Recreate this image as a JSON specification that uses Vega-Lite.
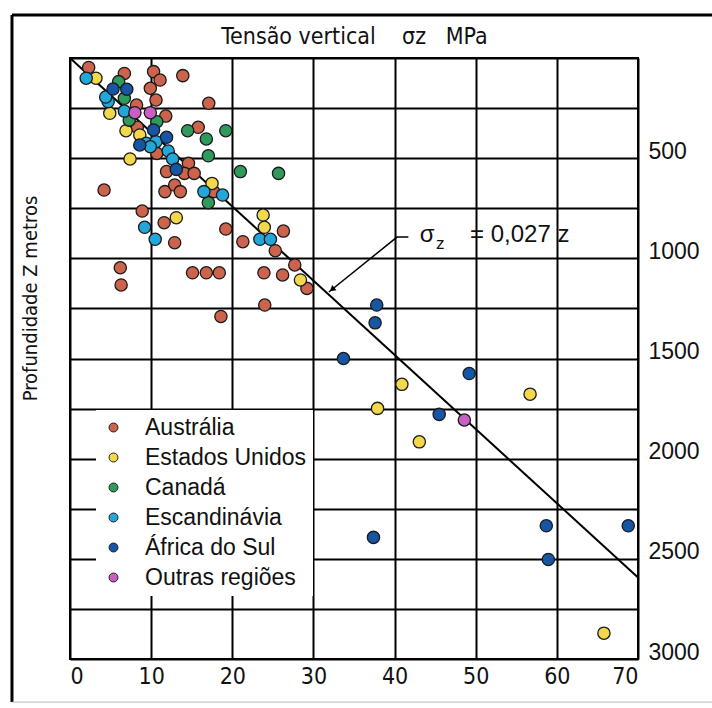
{
  "$schema": "https://vega.github.io/schema/vega-lite/v6.json",
  "width": 568,
  "height": 601,
  "autosize": {"type": "none"},
  "padding": {"left": 70, "top": 58, "right": 74, "bottom": 49},
  "background": "white",
  "config": {
    "view": {"stroke": "black", "strokeWidth": 2},
    "font": "Liberation Sans",
    "axis": {"labelColor": "#111", "titleColor": "#111", "titleFontWeight": "normal"}
  },
  "datasets": {
    "pontos": [
      {"regiao": "Austrália", "tensao": 2.3, "profundidade": 47},
      {"regiao": "Austrália", "tensao": 6.7, "profundidade": 77},
      {"regiao": "Austrália", "tensao": 10.3, "profundidade": 68},
      {"regiao": "Austrália", "tensao": 11.1, "profundidade": 110},
      {"regiao": "Austrália", "tensao": 13.9, "profundidade": 88},
      {"regiao": "Austrália", "tensao": 9.9, "profundidade": 151},
      {"regiao": "Austrália", "tensao": 10.6, "profundidade": 210},
      {"regiao": "Austrália", "tensao": 8.2, "profundidade": 235},
      {"regiao": "Austrália", "tensao": 17.1, "profundidade": 226},
      {"regiao": "Austrália", "tensao": 11.8, "profundidade": 290},
      {"regiao": "Austrália", "tensao": 8.3, "profundidade": 346},
      {"regiao": "Austrália", "tensao": 10.7, "profundidade": 476},
      {"regiao": "Austrália", "tensao": 14.6, "profundidade": 526},
      {"regiao": "Austrália", "tensao": 11.9, "profundidade": 567},
      {"regiao": "Austrália", "tensao": 14.1, "profundidade": 576},
      {"regiao": "Austrália", "tensao": 15.3, "profundidade": 576},
      {"regiao": "Austrália", "tensao": 15.8, "profundidade": 346},
      {"regiao": "Austrália", "tensao": 4.2, "profundidade": 659},
      {"regiao": "Austrália", "tensao": 17.7, "profundidade": 667},
      {"regiao": "Austrália", "tensao": 11.7, "profundidade": 667},
      {"regiao": "Austrália", "tensao": 12.9, "profundidade": 634},
      {"regiao": "Austrália", "tensao": 13.6, "profundidade": 667},
      {"regiao": "Austrália", "tensao": 8.9, "profundidade": 764},
      {"regiao": "Austrália", "tensao": 11.6, "profundidade": 822},
      {"regiao": "Austrália", "tensao": 12.9, "profundidade": 922},
      {"regiao": "Austrália", "tensao": 19.2, "profundidade": 854},
      {"regiao": "Austrália", "tensao": 21.3, "profundidade": 917},
      {"regiao": "Austrália", "tensao": 26.3, "profundidade": 864},
      {"regiao": "Austrália", "tensao": 25.3, "profundidade": 962},
      {"regiao": "Austrália", "tensao": 6.2, "profundidade": 1047},
      {"regiao": "Austrália", "tensao": 6.3, "profundidade": 1133},
      {"regiao": "Austrália", "tensao": 15.1, "profundidade": 1072},
      {"regiao": "Austrália", "tensao": 16.8, "profundidade": 1072},
      {"regiao": "Austrália", "tensao": 18.4, "profundidade": 1072},
      {"regiao": "Austrália", "tensao": 23.9, "profundidade": 1072},
      {"regiao": "Austrália", "tensao": 26.2, "profundidade": 1083},
      {"regiao": "Austrália", "tensao": 27.7, "profundidade": 1033},
      {"regiao": "Austrália", "tensao": 29.2, "profundidade": 1150},
      {"regiao": "Austrália", "tensao": 24.0, "profundidade": 1233},
      {"regiao": "Austrália", "tensao": 18.6, "profundidade": 1290},
      {"regiao": "Estados Unidos", "tensao": 3.2, "profundidade": 101},
      {"regiao": "Estados Unidos", "tensao": 4.9, "profundidade": 276},
      {"regiao": "Estados Unidos", "tensao": 6.9, "profundidade": 363},
      {"regiao": "Estados Unidos", "tensao": 8.6, "profundidade": 384},
      {"regiao": "Estados Unidos", "tensao": 7.4, "profundidade": 504},
      {"regiao": "Estados Unidos", "tensao": 17.5, "profundidade": 626},
      {"regiao": "Estados Unidos", "tensao": 13.1, "profundidade": 797},
      {"regiao": "Estados Unidos", "tensao": 23.8, "profundidade": 784},
      {"regiao": "Estados Unidos", "tensao": 23.95, "profundidade": 845},
      {"regiao": "Estados Unidos", "tensao": 28.4, "profundidade": 1108},
      {"regiao": "Estados Unidos", "tensao": 40.9, "profundidade": 1629},
      {"regiao": "Estados Unidos", "tensao": 56.7, "profundidade": 1678},
      {"regiao": "Estados Unidos", "tensao": 37.9, "profundidade": 1749},
      {"regiao": "Estados Unidos", "tensao": 43.05, "profundidade": 1916},
      {"regiao": "Estados Unidos", "tensao": 65.8, "profundidade": 2871},
      {"regiao": "Canadá", "tensao": 6.0, "profundidade": 118},
      {"regiao": "Canadá", "tensao": 6.7, "profundidade": 201},
      {"regiao": "Canadá", "tensao": 10.7, "profundidade": 318},
      {"regiao": "Canadá", "tensao": 7.3, "profundidade": 310},
      {"regiao": "Canadá", "tensao": 14.5, "profundidade": 363},
      {"regiao": "Canadá", "tensao": 19.2, "profundidade": 363},
      {"regiao": "Canadá", "tensao": 16.8, "profundidade": 404},
      {"regiao": "Canadá", "tensao": 17.05, "profundidade": 488},
      {"regiao": "Canadá", "tensao": 21.0, "profundidade": 567},
      {"regiao": "Canadá", "tensao": 25.7, "profundidade": 576},
      {"regiao": "Canadá", "tensao": 17.05, "profundidade": 722},
      {"regiao": "Escandinávia", "tensao": 2.0, "profundidade": 101},
      {"regiao": "Escandinávia", "tensao": 4.7, "profundidade": 218},
      {"regiao": "Escandinávia", "tensao": 4.4, "profundidade": 195},
      {"regiao": "Escandinávia", "tensao": 6.7, "profundidade": 265},
      {"regiao": "Escandinávia", "tensao": 9.4, "profundidade": 426},
      {"regiao": "Escandinávia", "tensao": 10.6, "profundidade": 418},
      {"regiao": "Escandinávia", "tensao": 9.9, "profundidade": 443},
      {"regiao": "Escandinávia", "tensao": 12.1, "profundidade": 464},
      {"regiao": "Escandinávia", "tensao": 12.65, "profundidade": 504},
      {"regiao": "Escandinávia", "tensao": 16.5, "profundidade": 667},
      {"regiao": "Escandinávia", "tensao": 18.8, "profundidade": 684},
      {"regiao": "Escandinávia", "tensao": 9.2, "profundidade": 845},
      {"regiao": "Escandinávia", "tensao": 10.5, "profundidade": 905},
      {"regiao": "Escandinávia", "tensao": 23.4, "profundidade": 905},
      {"regiao": "Escandinávia", "tensao": 24.7, "profundidade": 905},
      {"regiao": "África do Sul", "tensao": 5.3, "profundidade": 155},
      {"regiao": "África do Sul", "tensao": 7.0, "profundidade": 156},
      {"regiao": "África do Sul", "tensao": 10.3, "profundidade": 359},
      {"regiao": "África do Sul", "tensao": 8.6, "profundidade": 434},
      {"regiao": "África do Sul", "tensao": 11.9, "profundidade": 396},
      {"regiao": "África do Sul", "tensao": 13.1, "profundidade": 556},
      {"regiao": "África do Sul", "tensao": 37.8, "profundidade": 1233},
      {"regiao": "África do Sul", "tensao": 37.6, "profundidade": 1322},
      {"regiao": "África do Sul", "tensao": 33.7, "profundidade": 1500},
      {"regiao": "África do Sul", "tensao": 49.2, "profundidade": 1575},
      {"regiao": "África do Sul", "tensao": 45.5, "profundidade": 1779},
      {"regiao": "África do Sul", "tensao": 37.4, "profundidade": 2393},
      {"regiao": "África do Sul", "tensao": 58.7, "profundidade": 2335},
      {"regiao": "África do Sul", "tensao": 68.8, "profundidade": 2335},
      {"regiao": "África do Sul", "tensao": 58.95, "profundidade": 2503},
      {"regiao": "Outras regiões", "tensao": 8.0, "profundidade": 273},
      {"regiao": "Outras regiões", "tensao": 9.9, "profundidade": 273},
      {"regiao": "Outras regiões", "tensao": 48.6, "profundidade": 1807}
    ],
    "reta": [
      {"tensao": 0, "profundidade": 0},
      {"tensao": 70, "profundidade": 2593}
    ],
    "seta": [
      {"ordem": 1, "tensao": 41.7, "profundidade": 894},
      {"ordem": 2, "tensao": 40.3, "profundidade": 894},
      {"ordem": 3, "tensao": 31.9, "profundidade": 1168}
    ],
    "ponta": [
      {"tensao": 32.3, "profundidade": 1155}
    ],
    "anotacao": [
      {"texto": "σ", "tamanho": "grande", "tensao": 43.1, "profundidade": 884},
      {"texto": "z", "tamanho": "pequeno", "tensao": 45.1, "profundidade": 930},
      {"texto": "= 0,027 z", "tamanho": "grande", "tensao": 49.3, "profundidade": 884}
    ],
    "moldura": [
      {"x1": -7.15, "x2": 80, "y1": -215, "y2": 3215}
    ]
  },
  "layer": [
    {
      "data": {"name": "reta"},
      "mark": {"type": "line", "color": "black", "strokeWidth": 2},
      "encoding": {
        "x": {
          "field": "tensao", "type": "quantitative",
          "scale": {"domain": [0, 70], "nice": false, "zero": false},
          "axis": {
            "orient": "top", "labels": false, "ticks": false, "domain": false, "grid": false,
            "title": "Tensão vertical\u00a0\u00a0\u00a0\u00a0σz\u00a0\u00a0\u00a0MPa",
            "titleFont": "DejaVu Sans Condensed, Liberation Sans", "titleFontSize": 23, "titlePadding": 10
          }
        },
        "y": {
          "field": "profundidade", "type": "quantitative",
          "scale": {"domain": [0, 3000], "nice": false, "reverse": true, "zero": false},
          "axis": {
            "orient": "left", "labels": false, "ticks": false, "domain": false,
            "grid": true, "gridColor": "black", "gridWidth": 2, "gridOpacity": 1,
            "values": [0, 250, 500, 750, 1000, 1250, 1500, 1750, 2000, 2250, 2500, 2750, 3000],
            "title": "Profundidade Z metros",
            "titleFont": "DejaVu Sans Condensed, Liberation Sans", "titleFontSize": 20,
            "titleX": -40, "titleY": 240, "titleBaseline": "middle"
          }
        }
      }
    },
    {
      "data": {"name": "seta"},
      "mark": {"type": "line", "color": "black", "strokeWidth": 1.5},
      "encoding": {
        "x": {"field": "tensao", "type": "quantitative", "axis": null},
        "y": {"field": "profundidade", "type": "quantitative", "axis": null},
        "order": {"field": "ordem"}
      }
    },
    {
      "data": {"name": "ponta"},
      "mark": {"type": "point", "shape": "triangle-up", "filled": true, "color": "black", "size": 45, "angle": 231, "opacity": 1},
      "encoding": {
        "x": {"field": "tensao", "type": "quantitative", "axis": null},
        "y": {"field": "profundidade", "type": "quantitative", "axis": null}
      }
    },
    {
      "data": {"name": "anotacao"},
      "mark": {"type": "text", "align": "left", "baseline": "middle", "color": "#111", "font": "Liberation Sans"},
      "encoding": {
        "x": {"field": "tensao", "type": "quantitative", "axis": null},
        "y": {"field": "profundidade", "type": "quantitative", "axis": null},
        "text": {"field": "texto"},
        "size": {"field": "tamanho", "type": "nominal", "scale": {"domain": ["grande", "pequeno"], "range": [24, 17]}, "legend": null}
      }
    },
    {
      "data": {"name": "pontos"},
      "mark": {"type": "point", "filled": true, "size": 150, "stroke": "#1a1a1a", "strokeWidth": 1.3, "opacity": 1},
      "encoding": {
        "x": {
          "field": "tensao", "type": "quantitative",
          "axis": {
            "orient": "bottom", "values": [0, 10, 20, 30, 40, 50, 60, 70],
            "grid": true, "gridColor": "black", "gridWidth": 2, "gridOpacity": 1,
            "ticks": false, "domain": false, "title": null,
            "labelFont": "DejaVu Sans Condensed, Liberation Sans", "labelFontSize": 23, "labelPadding": 6
          }
        },
        "y": {
          "field": "profundidade", "type": "quantitative",
          "axis": {
            "orient": "right", "values": [500, 1000, 1500, 2000, 2500, 3000],
            "grid": false, "ticks": false, "domain": false, "title": null,
            "labelFont": "Liberation Sans", "labelFontSize": 23, "labelPadding": 10,
            "labelBaseline": "alphabetic", "labelAlign": "left", "format": "d"
          }
        },
        "fill": {
          "field": "regiao", "type": "nominal", "title": null,
          "scale": {
            "domain": ["Austrália", "Estados Unidos", "Canadá", "Escandinávia", "África do Sul", "Outras regiões"],
            "range": ["#cc634d", "#f3d84c", "#2f9a5c", "#22a7db", "#1755a5", "#c95fc4"]
          },
          "legend": {
            "orient": "none", "legendX": 26, "legendY": 352,
            "fillColor": "white", "padding": 6, "strokeColor": null,
            "symbolType": "circle", "symbolSize": 80, "symbolStrokeColor": "#222", "symbolStrokeWidth": 1, "symbolOpacity": 1,
            "labelFont": "Liberation Sans", "labelFontSize": 23, "labelColor": "#111", "labelOffset": 20,
            "rowPadding": 6, "labelLimit": 300
          }
        }
      }
    },
    {
      "data": {"name": "moldura"},
      "mark": {"type": "rule", "color": "black", "strokeWidth": 3},
      "encoding": {
        "x": {"field": "x1", "type": "quantitative", "axis": null},
        "y": {"field": "y1", "type": "quantitative", "axis": null},
        "y2": {"field": "y2"}
      }
    },
    {
      "data": {"name": "moldura"},
      "mark": {"type": "rule", "color": "black", "strokeWidth": 3},
      "encoding": {
        "x": {"field": "x1", "type": "quantitative", "axis": null},
        "x2": {"field": "x2"},
        "y": {"field": "y1", "type": "quantitative", "axis": null}
      }
    },
    {
      "data": {"name": "moldura"},
      "mark": {"type": "rule", "color": "#bbbbbb", "strokeWidth": 1},
      "encoding": {
        "x": {"field": "x1", "type": "quantitative", "axis": null},
        "x2": {"field": "x2"},
        "y": {"field": "y2", "type": "quantitative", "axis": null}
      }
    }
  ],
  "resolve": {"axis": {"x": "independent", "y": "independent"}}
}
